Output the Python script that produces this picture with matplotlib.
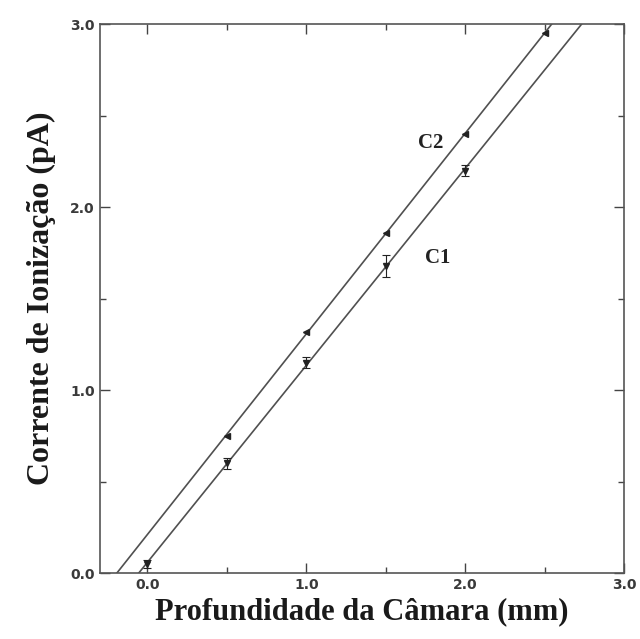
import numpy as np
import matplotlib
matplotlib.use("Agg")
import matplotlib.pyplot as plt
from matplotlib.ticker import MultipleLocator

# data
depth_c1 = [0.0, 0.5, 1.0, 1.5, 2.0]
current_c1 = [0.05, 0.60, 1.15, 1.68, 2.20]
err_c1 = [0.02, 0.03, 0.03, 0.06, 0.03]

depth_c2 = [0.5, 1.0, 1.5, 2.0, 2.5]
current_c2 = [0.75, 1.32, 1.86, 2.40, 2.95]

line_color = "#505050"

fig = plt.figure(figsize=(6.4, 6.39), dpi=100)
ax = fig.add_axes([0.156, 0.103, 0.819, 0.859])

xs = np.array([-0.3, 3.0])
for x, y in ((depth_c1, current_c1), (depth_c2, current_c2)):
    k, b = np.polyfit(x, y, 1)
    ax.plot(xs, k * xs + b, color=line_color, lw=1.2)

ax.errorbar(depth_c1, current_c1, yerr=err_c1, fmt="v", ms=4, color="#222222",
            capsize=3, elinewidth=0.8, capthick=0.8)
ax.plot(depth_c2, current_c2, "<", ms=4, color="#222222", ls="none")

ax.text(1.78, 2.35, "C2", fontsize=15, fontweight="bold", family="Liberation Serif",
        ha="center", va="center", color="#222222")
ax.text(1.83, 1.72, "C1", fontsize=15, fontweight="bold", family="Liberation Serif",
        ha="center", va="center", color="#222222")

ax.set_xlim(-0.3, 3.0)
ax.set_ylim(0, 3.0)
ax.xaxis.set_major_locator(MultipleLocator(1.0))
ax.yaxis.set_major_locator(MultipleLocator(1.0))
ax.xaxis.set_minor_locator(MultipleLocator(0.5))
ax.yaxis.set_minor_locator(MultipleLocator(0.5))
ax.xaxis.set_major_formatter(lambda v, p: f"{v:.1f}")
ax.yaxis.set_major_formatter(lambda v, p: f"{v:.1f}")
ax.tick_params(which="both", direction="in", top=True, right=True,
               colors="#444444", labelcolor="#3a3a3a", labelsize=10)
ax.tick_params(which="major", length=7, width=1)
ax.tick_params(which="minor", length=4, width=1)
for lbl in ax.get_xticklabels() + ax.get_yticklabels():
    lbl.set_fontweight("bold")
for s in ax.spines.values():
    s.set_color("#555555")
    s.set_linewidth(1.2)

ax.set_xlabel("Profundidade da Câmara (mm)", family="Liberation Serif",
              fontweight="bold", fontsize=22, labelpad=4, color="#1a1a1a")
ax.set_ylabel("Corrente de Ionização (pA)", family="Liberation Serif",
              fontweight="bold", fontsize=23, labelpad=10, color="#1a1a1a")

fig.savefig("out.png", dpi=100)
